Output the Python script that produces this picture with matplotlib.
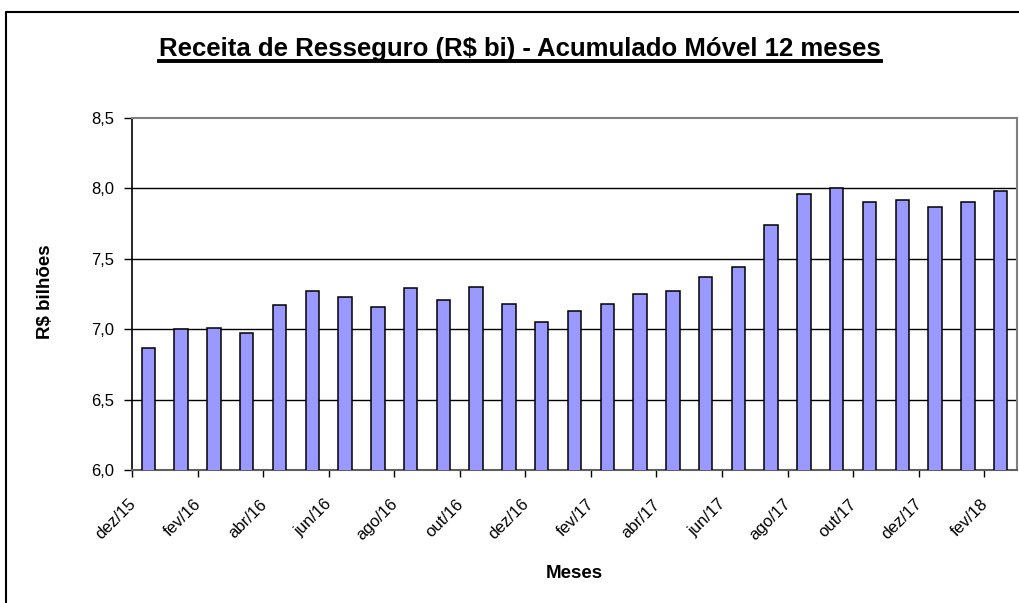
import matplotlib
matplotlib.use('Agg')
import matplotlib.pyplot as plt
from matplotlib.lines import Line2D
import numpy as np

plt.rcParams['font.family'] = ['Liberation Sans', 'DejaVu Sans']

MONTHS = ['dez/15', 'jan/16', 'fev/16', 'mar/16', 'abr/16', 'mai/16', 'jun/16',
          'jul/16', 'ago/16', 'set/16', 'out/16', 'nov/16', 'dez/16', 'jan/17',
          'fev/17', 'mar/17', 'abr/17', 'mai/17', 'jun/17', 'jul/17', 'ago/17',
          'set/17', 'out/17', 'nov/17', 'dez/17', 'jan/18', 'fev/18']
VALUES = [6.87, 7.00, 7.01, 6.97, 7.17, 7.27, 7.23, 7.16, 7.29, 7.21, 7.30,
          7.18, 7.05, 7.13, 7.18, 7.25, 7.27, 7.37, 7.44, 7.74, 7.96, 8.00,
          7.90, 7.92, 7.87, 7.90, 7.98]
Y_TICKS = [6.0, 6.5, 7.0, 7.5, 8.0, 8.5]
Y_LABELS = ['6,0', '6,5', '7,0', '7,5', '8,0', '8,5']

TITLE = 'Receita de Resseguro (R$ bi) - Acumulado Móvel 12 meses'

W, H = 1019, 603


def main():
    fig = plt.figure(figsize=(W / 100, H / 100), dpi=100)
    ax = fig.add_axes([132 / W, 1 - 470 / H, (1017 - 132) / W, (470 - 118) / H])

    x = np.arange(len(MONTHS))
    ax.bar(x, VALUES, width=0.41, color='#9999ff', edgecolor='black',
           linewidth=1.1, zorder=3)

    ax.set_xlim(-0.5, len(MONTHS) - 0.5)
    ax.set_ylim(6.0, 8.5)

    # y axis
    ax.set_yticks(Y_TICKS, Y_LABELS, fontsize=12)
    ax.tick_params(axis='y', direction='out', length=6, width=1, pad=7)
    for yv in Y_TICKS[1:-1]:
        ax.axhline(yv, color='black', linewidth=1, zorder=1)

    # x axis: ticks on the boundaries, labels every other month
    ax.set_xticks(np.arange(-0.5, len(MONTHS) - 1, 2))
    ax.tick_params(axis='x', which='major', direction='out', length=5,
                   width=1, labelbottom=False)
    lab_pos = [i - 0.47 for i in range(0, len(MONTHS), 2)]
    lab_txt = [MONTHS[i] for i in range(0, len(MONTHS), 2)]
    ax.set_xticks(lab_pos, lab_txt, minor=True, fontsize=12, rotation=45,
                  ha='right', va='center', rotation_mode='anchor')
    ax.tick_params(axis='x', which='minor', length=0, pad=23)

    for side in ['top', 'right']:
        ax.spines[side].set_color('#808080')
        ax.spines[side].set_linewidth(1.5)
    ax.spines['left'].set_color('black')
    ax.spines['left'].set_linewidth(1.2)
    ax.spines['bottom'].set_color('#606060')
    ax.spines['bottom'].set_linewidth(1.5)

    fig.text(45 / W, 1 - 292 / H, 'R$ bilhões', rotation=90, fontsize=13.5,
             fontweight='bold', ha='center', va='center')
    fig.text(574 / W, 1 - 574 / H, 'Meses', fontsize=13.5, fontweight='bold',
             ha='center', va='center')

    # title with underline
    title = fig.text(520 / W, 1 - 56 / H, TITLE, fontsize=18.5,
                     fontweight='bold', ha='center', va='baseline')
    fig.canvas.draw()
    bb = title.get_window_extent()
    uy = 1 - 61 / H
    fig.add_artist(Line2D([bb.x0 / W, bb.x1 / W], [uy, uy], color='black',
                          linewidth=2.8, transform=fig.transFigure))

    # outer chart frame
    fig.add_artist(Line2D([6 / W, 6 / W, 1.0], [0.0, 1 - 12 / H, 1 - 12 / H],
                          color='black', linewidth=1.5,
                          transform=fig.transFigure))

    fig.savefig('out.png', dpi=100)


if __name__ == '__main__':
    main()
